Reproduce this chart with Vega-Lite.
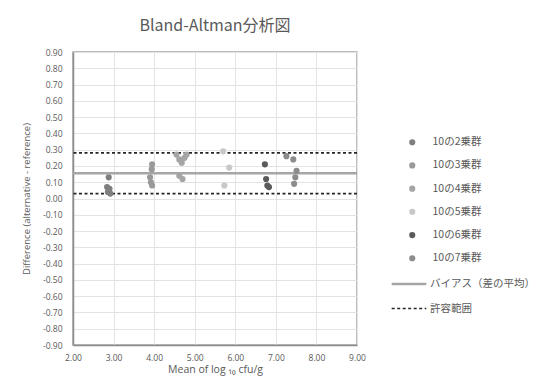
{
  "$schema": "https://vega.github.io/schema/vega-lite/v6.json",
  "width": 284,
  "height": 293,
  "autosize": "none",
  "padding": {"left": 73, "top": 52, "right": 178, "bottom": 43},
  "background": "white",
  "title": {
    "text": "Bland-Altman分析図",
    "font": "Noto Sans CJK JP",
    "fontSize": 16,
    "fontWeight": "normal",
    "color": "#595959",
    "anchor": "middle",
    "frame": "group",
    "offset": 14
  },
  "config": {
    "view": {"stroke": "#a6a6a6", "strokeWidth": 1.5},
    "axis": {
      "labelFont": "Open Sans",
      "labelFontSize": 8.5,
      "labelColor": "#595959",
      "titleFont": "Open Sans",
      "titleFontSize": 9.5,
      "titleFontWeight": "normal",
      "titleColor": "#595959",
      "gridColor": "#e3e3e3",
      "gridWidth": 1,
      "ticks": false,
      "labelOverlap": false,
      "labelFlush": false,
      "domainColor": "#8c8c8c",
      "domainWidth": 1.5
    },
    "legend": {
      "labelFont": "Noto Sans CJK JP",
      "labelFontSize": 10.5,
      "labelColor": "#595959"
    }
  },
  "datasets": {
    "pts": [
      {"group": "10の2乗群", "mean": 2.88, "diff": 0.13},
      {"group": "10の2乗群", "mean": 2.84, "diff": 0.07},
      {"group": "10の2乗群", "mean": 2.90, "diff": 0.06},
      {"group": "10の2乗群", "mean": 2.92, "diff": 0.03},
      {"group": "10の2乗群", "mean": 2.86, "diff": 0.04},
      {"group": "10の3乗群", "mean": 3.95, "diff": 0.21},
      {"group": "10の3乗群", "mean": 3.94, "diff": 0.18},
      {"group": "10の3乗群", "mean": 3.90, "diff": 0.13},
      {"group": "10の3乗群", "mean": 3.92, "diff": 0.10},
      {"group": "10の3乗群", "mean": 3.95, "diff": 0.08},
      {"group": "10の4乗群", "mean": 4.55, "diff": 0.27},
      {"group": "10の4乗群", "mean": 4.62, "diff": 0.24},
      {"group": "10の4乗群", "mean": 4.68, "diff": 0.22},
      {"group": "10の4乗群", "mean": 4.75, "diff": 0.25},
      {"group": "10の4乗群", "mean": 4.80, "diff": 0.27},
      {"group": "10の4乗群", "mean": 4.62, "diff": 0.14},
      {"group": "10の4乗群", "mean": 4.70, "diff": 0.12},
      {"group": "10の5乗群", "mean": 5.70, "diff": 0.29},
      {"group": "10の5乗群", "mean": 5.85, "diff": 0.19},
      {"group": "10の5乗群", "mean": 5.73, "diff": 0.08},
      {"group": "10の6乗群", "mean": 6.73, "diff": 0.21},
      {"group": "10の6乗群", "mean": 6.76, "diff": 0.12},
      {"group": "10の6乗群", "mean": 6.79, "diff": 0.08},
      {"group": "10の6乗群", "mean": 6.83, "diff": 0.07},
      {"group": "10の7乗群", "mean": 7.26, "diff": 0.26},
      {"group": "10の7乗群", "mean": 7.43, "diff": 0.24},
      {"group": "10の7乗群", "mean": 7.51, "diff": 0.17},
      {"group": "10の7乗群", "mean": 7.48, "diff": 0.13},
      {"group": "10の7乗群", "mean": 7.45, "diff": 0.09}
    ],
    "lines": [
      {"type": "バイアス（差の平均）", "y": 0.155},
      {"type": "許容範囲", "y": 0.28},
      {"type": "許容範囲", "y": 0.03}
    ]
  },
  "layer": [
    {
      "data": {"name": "lines"},
      "mark": {"type": "rule"},
      "encoding": {
        "y": {
          "field": "y",
          "type": "quantitative",
          "scale": {"domain": [-0.9, 0.9], "nice": false},
          "axis": {
            "values": [-0.9, -0.8, -0.7, -0.6, -0.5, -0.4, -0.3, -0.2, -0.1, 0, 0.1, 0.2, 0.3, 0.4, 0.5, 0.6, 0.7, 0.8, 0.9],
            "labelOverlap": false,
            "labelExpr": "replace(format(datum.value, '.2f'), '−', '-')",
            "title": "Difference (alternative - reference)",
            "labelPadding": 11,
            "titlePadding": 11
          }
        },
        "stroke": {
          "field": "type",
          "type": "nominal",
          "scale": {"domain": ["バイアス（差の平均）", "許容範囲"], "range": ["#a6a6a6", "#262626"]},
          "legend": {"title": null, "orient": "none", "legendX": 317, "legendY": 213, "symbolType": "stroke", "symbolSize": 1200, "symbolStrokeWidth": 2, "rowPadding": -15, "labelOffset": 2}
        },
        "strokeDash": {
          "field": "type",
          "type": "nominal",
          "scale": {"domain": ["バイアス（差の平均）", "許容範囲"], "range": [[1, 0], [3, 2.5]]},
          "legend": {"title": null, "orient": "none", "legendX": 317, "legendY": 213, "symbolType": "stroke", "symbolSize": 1200, "symbolStrokeWidth": 2, "rowPadding": -15, "labelOffset": 2}
        },
        "strokeWidth": {
          "field": "type",
          "type": "nominal",
          "scale": {"domain": ["バイアス（差の平均）", "許容範囲"], "range": [2.5, 1.6]},
          "legend": null
        }
      }
    },
    {
      "data": {"name": "pts"},
      "mark": {"type": "circle", "size": 38, "opacity": 1},
      "encoding": {
        "x": {
          "field": "mean",
          "type": "quantitative",
          "scale": {"domain": [2, 9], "nice": false},
          "axis": {"values": [2, 3, 4, 5, 6, 7, 8, 9], "format": ".2f", "title": "Mean of log ₁₀ cfu/g", "titleFontSize": 10.5, "labelPadding": 8, "titlePadding": 3}
        },
        "y": {
          "field": "diff",
          "type": "quantitative",
          "scale": {"domain": [-0.9, 0.9], "nice": false},
          "axis": {
            "values": [-0.9, -0.8, -0.7, -0.6, -0.5, -0.4, -0.3, -0.2, -0.1, 0, 0.1, 0.2, 0.3, 0.4, 0.5, 0.6, 0.7, 0.8, 0.9],
            "labelOverlap": false,
            "labelExpr": "replace(format(datum.value, '.2f'), '−', '-')",
            "title": "Difference (alternative - reference)",
            "labelPadding": 11,
            "titlePadding": 11
          }
        },
        "color": {
          "field": "group",
          "type": "nominal",
          "scale": {
            "domain": ["10の2乗群", "10の3乗群", "10の4乗群", "10の5乗群", "10の6乗群", "10の7乗群"],
            "range": ["#7f7f7f", "#999999", "#a5a5a5", "#c8c8c8", "#5a5a5a", "#8c8c8c"]
          },
          "legend": {"title": null, "orient": "none", "legendX": 334, "legendY": 85, "symbolType": "circle", "symbolSize": 38, "rowPadding": 12.2, "labelOffset": 15}
        }
      }
    }
  ],
  "resolve": {"scale": {"color": "independent"}}
}
